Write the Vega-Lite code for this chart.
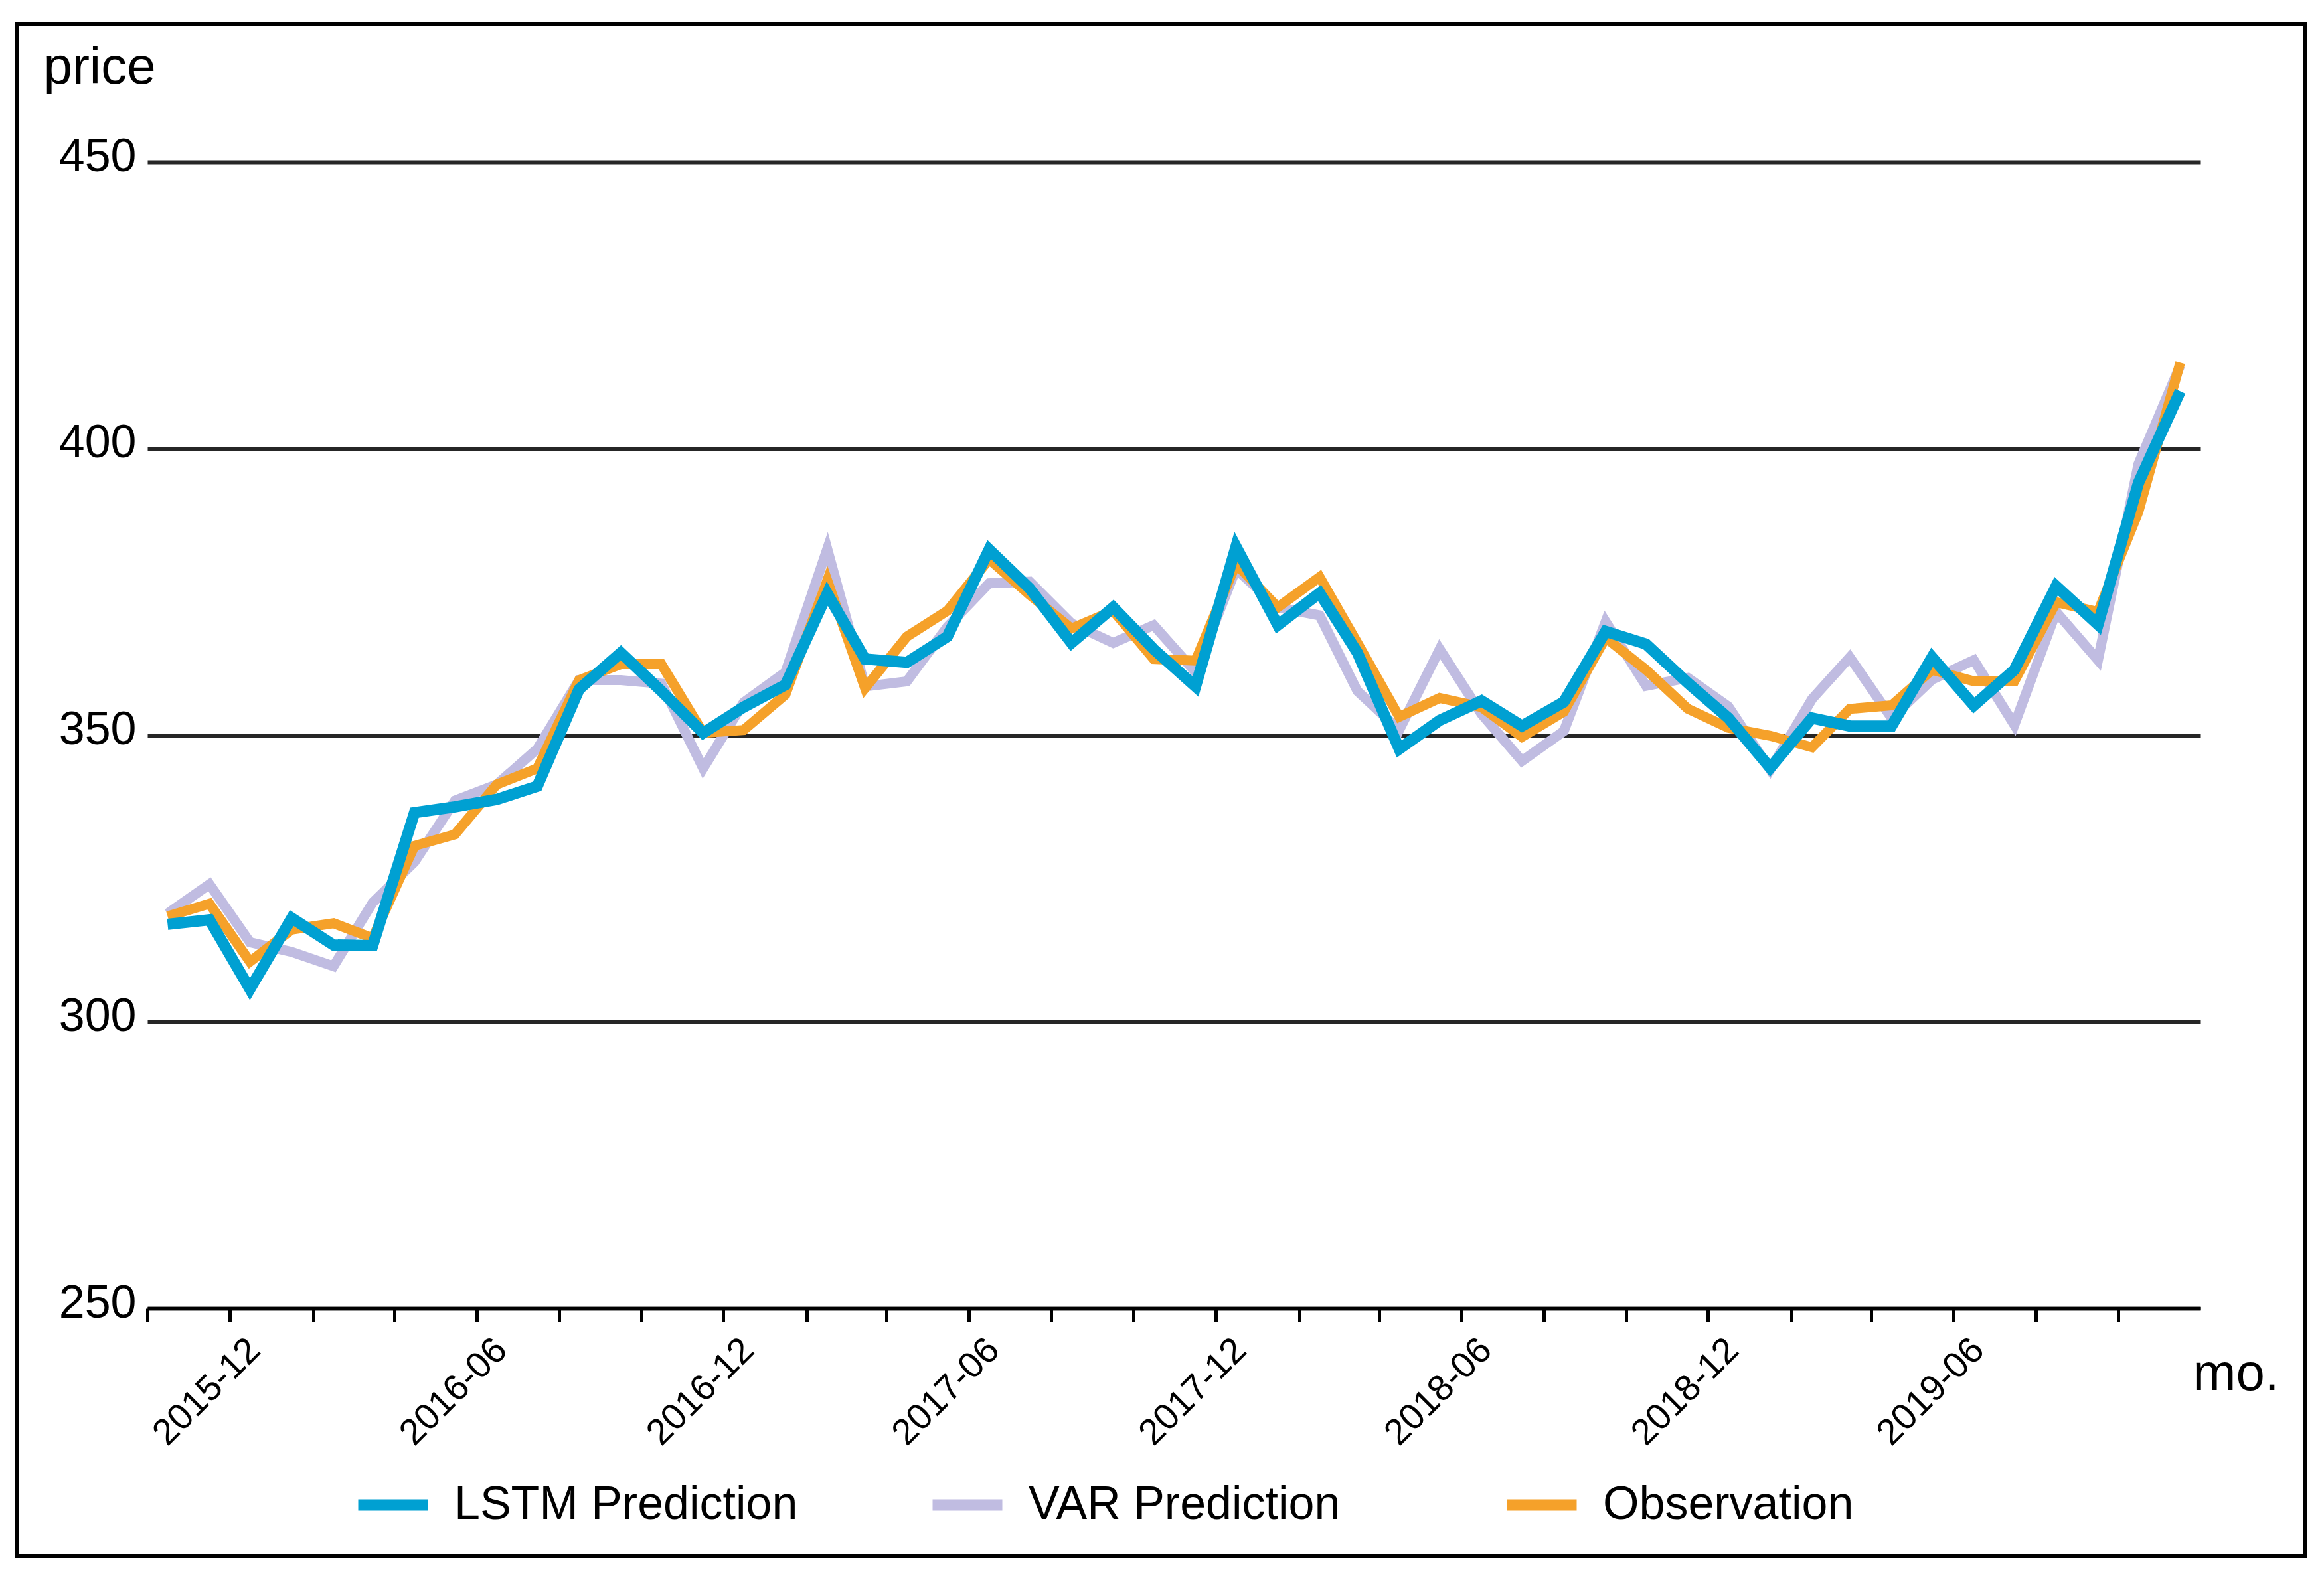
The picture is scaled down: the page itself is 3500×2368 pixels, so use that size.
{
  "$schema": "https://vega.github.io/schema/vega-lite/v6.json",
  "width": 3446,
  "height": 2308,
  "autosize": {"type": "none"},
  "padding": {"left": 25, "top": 36, "right": 29, "bottom": 24},
  "background": "white",
  "config": {
    "font": "Liberation Sans",
    "view": {"stroke": "black", "strokeWidth": 6}
  },
  "data": {
    "values": [
      {"date": "2015-10-16", "lstm": 317.0, "var": 318.9, "obs": 318.4},
      {"date": "2015-11-16", "lstm": 317.8, "var": 324.0, "obs": 320.6},
      {"date": "2015-12-16", "lstm": 305.7, "var": 313.9, "obs": 310.5},
      {"date": "2016-01-16", "lstm": 318.1, "var": 312.2, "obs": 316.1},
      {"date": "2016-02-16", "lstm": 313.4, "var": 309.7, "obs": 317.2},
      {"date": "2016-03-16", "lstm": 313.3, "var": 320.8, "obs": 314.6},
      {"date": "2016-04-16", "lstm": 336.5, "var": 327.9, "obs": 330.7},
      {"date": "2016-05-16", "lstm": 337.5, "var": 338.6, "obs": 332.7},
      {"date": "2016-06-16", "lstm": 338.8, "var": 341.4, "obs": 341.4},
      {"date": "2016-07-16", "lstm": 341.1, "var": 347.6, "obs": 344.2},
      {"date": "2016-08-16", "lstm": 358.0, "var": 359.6, "obs": 359.6},
      {"date": "2016-09-16", "lstm": 364.4, "var": 359.6, "obs": 362.4},
      {"date": "2016-10-16", "lstm": 357.7, "var": 359.0, "obs": 362.4},
      {"date": "2016-11-16", "lstm": 350.4, "var": 344.2, "obs": 350.4},
      {"date": "2016-12-16", "lstm": 354.9, "var": 355.7, "obs": 350.9},
      {"date": "2017-01-16", "lstm": 358.8, "var": 361.0, "obs": 357.1},
      {"date": "2017-02-16", "lstm": 374.7, "var": 382.5, "obs": 377.0},
      {"date": "2017-03-16", "lstm": 363.3, "var": 358.5, "obs": 358.2},
      {"date": "2017-04-16", "lstm": 362.7, "var": 359.4, "obs": 367.2},
      {"date": "2017-05-16", "lstm": 367.2, "var": 368.9, "obs": 371.7},
      {"date": "2017-06-16", "lstm": 382.4, "var": 376.5, "obs": 380.7},
      {"date": "2017-07-16", "lstm": 375.6, "var": 376.8, "obs": 374.5},
      {"date": "2017-08-16", "lstm": 366.1, "var": 369.5, "obs": 368.6},
      {"date": "2017-09-16", "lstm": 372.3, "var": 366.1, "obs": 371.7},
      {"date": "2017-10-16", "lstm": 365.0, "var": 369.2, "obs": 363.3},
      {"date": "2017-11-16", "lstm": 358.5, "var": 361.0, "obs": 363.0},
      {"date": "2017-12-16", "lstm": 382.9, "var": 379.0, "obs": 379.9},
      {"date": "2018-01-16", "lstm": 369.2, "var": 372.3, "obs": 372.3},
      {"date": "2018-02-16", "lstm": 374.8, "var": 370.9, "obs": 377.6},
      {"date": "2018-03-16", "lstm": 364.4, "var": 357.7, "obs": 366.1},
      {"date": "2018-04-16", "lstm": 347.6, "var": 350.9, "obs": 353.2},
      {"date": "2018-05-16", "lstm": 352.6, "var": 365.0, "obs": 356.5},
      {"date": "2018-06-16", "lstm": 356.0, "var": 353.7, "obs": 354.9},
      {"date": "2018-07-16", "lstm": 351.6, "var": 345.5, "obs": 349.7},
      {"date": "2018-08-16", "lstm": 355.8, "var": 350.7, "obs": 354.1},
      {"date": "2018-09-16", "lstm": 368.1, "var": 369.8, "obs": 367.0},
      {"date": "2018-10-16", "lstm": 365.9, "var": 358.6, "obs": 361.4},
      {"date": "2018-11-16", "lstm": 359.1, "var": 360.0, "obs": 354.6},
      {"date": "2018-12-16", "lstm": 353.0, "var": 355.0, "obs": 351.3},
      {"date": "2019-01-16", "lstm": 344.3, "var": 344.0, "obs": 349.9},
      {"date": "2019-02-16", "lstm": 353.0, "var": 356.3, "obs": 347.9},
      {"date": "2019-03-16", "lstm": 351.6, "var": 363.6, "obs": 354.6},
      {"date": "2019-04-16", "lstm": 351.6, "var": 353.0, "obs": 355.2},
      {"date": "2019-05-16", "lstm": 363.6, "var": 359.7, "obs": 361.4},
      {"date": "2019-06-16", "lstm": 355.2, "var": 363.1, "obs": 359.4},
      {"date": "2019-07-16", "lstm": 361.4, "var": 351.8, "obs": 359.4},
      {"date": "2019-08-16", "lstm": 376.0, "var": 371.5, "obs": 373.2},
      {"date": "2019-09-16", "lstm": 369.3, "var": 363.1, "obs": 371.5},
      {"date": "2019-10-16", "lstm": 394.0, "var": 397.3, "obs": 389.0},
      {"date": "2019-11-16", "lstm": 410.0, "var": 414.5, "obs": 415.0}
    ]
  },
  "encoding": {
    "x": {
      "field": "date",
      "type": "temporal",
      "scale": {
        "domain": [{"year": 2015, "month": 10, "date": 1}, {"year": 2019, "month": 12, "date": 1}],
        "range": [197, 3289]
      },
      "axis": {
        "orient": "bottom",
        "offset": -373,
        "values": [
          {"year": 2015, "month": 10, "date": 1}, {"year": 2015, "month": 12, "date": 1},
          {"year": 2016, "month": 2, "date": 1}, {"year": 2016, "month": 4, "date": 1},
          {"year": 2016, "month": 6, "date": 1}, {"year": 2016, "month": 8, "date": 1},
          {"year": 2016, "month": 10, "date": 1}, {"year": 2016, "month": 12, "date": 1},
          {"year": 2017, "month": 2, "date": 1}, {"year": 2017, "month": 4, "date": 1},
          {"year": 2017, "month": 6, "date": 1}, {"year": 2017, "month": 8, "date": 1},
          {"year": 2017, "month": 10, "date": 1}, {"year": 2017, "month": 12, "date": 1},
          {"year": 2018, "month": 2, "date": 1}, {"year": 2018, "month": 4, "date": 1},
          {"year": 2018, "month": 6, "date": 1}, {"year": 2018, "month": 8, "date": 1},
          {"year": 2018, "month": 10, "date": 1}, {"year": 2018, "month": 12, "date": 1},
          {"year": 2019, "month": 2, "date": 1}, {"year": 2019, "month": 4, "date": 1},
          {"year": 2019, "month": 6, "date": 1}, {"year": 2019, "month": 8, "date": 1},
          {"year": 2019, "month": 10, "date": 1}
        ],
        "labelExpr": "(month(datum.value) == 5 || month(datum.value) == 11) ? timeFormat(datum.value, '%Y-%m') : ''",
        "labelAngle": -45,
        "labelAlign": "right",
        "labelBaseline": "top",
        "labelFontSize": 55,
        "labelColor": "black",
        "labelPadding": 15,
        "labelOffset": 18,
        "labelLimit": 1000,
        "labelFlush": false,
        "labelOverlap": false,
        "labelBound": false,
        "tickSize": 20,
        "tickWidth": 5,
        "tickColor": "black",
        "domainColor": "black",
        "domainWidth": 5,
        "grid": false,
        "title": "mo.",
        "titleFontSize": 78,
        "titleFontWeight": "normal",
        "titleColor": "black",
        "titleAlign": "left",
        "titleBaseline": "alphabetic",
        "titleX": 3277,
        "titleY": 122
      }
    }
  },
  "layer": [
    {
      "mark": {"type": "line", "strokeWidth": 15},
      "encoding": {
        "y": {
          "field": "var",
          "type": "quantitative",
          "title": "price",
          "scale": {"domain": [250, 450], "range": [1935, 208], "nice": false, "zero": false},
          "axis": {
            "orient": "left",
            "offset": -197,
            "values": [250, 300, 350, 400, 450],
            "domain": false,
            "ticks": false,
            "tickSize": 0,
            "grid": true,
            "gridColor": "#262626",
            "gridWidth": 6,
            "labelFontSize": 70,
            "labelColor": "black",
            "labelPadding": 17,
            "labelOffset": -8,
            "title": "price",
            "titleFontSize": 78,
            "titleFontWeight": "normal",
            "titleColor": "black",
            "titleAngle": 0,
            "titleAlign": "left",
            "titleBaseline": "alphabetic",
            "titleX": -157,
            "titleY": 89
          }
        },
        "color": {
          "datum": "VAR Prediction",
          "type": "nominal",
          "scale": {
            "domain": ["LSTM Prediction", "VAR Prediction", "Observation"],
            "range": ["#00A0D2", "#C0BCE1", "#F5A12A"]
          },
          "legend": {
            "orient": "none",
            "legendX": 506,
            "legendY": 2170,
            "direction": "horizontal",
            "columns": 3,
            "gridAlign": "all",
            "columnPadding": 168,
            "title": null,
            "symbolType": "stroke",
            "symbolSize": 11025,
            "symbolStrokeWidth": 17,
            "labelFontSize": 70,
            "labelColor": "black",
            "labelOffset": 31,
            "labelLimit": 1000,
            "padding": 0,
            "offset": 0
          }
        }
      }
    },
    {
      "mark": {"type": "line", "strokeWidth": 15},
      "encoding": {
        "y": {"field": "obs", "type": "quantitative", "title": "price"},
        "color": {"datum": "Observation", "type": "nominal"}
      }
    },
    {
      "mark": {"type": "line", "strokeWidth": 17},
      "encoding": {
        "y": {"field": "lstm", "type": "quantitative", "title": "price"},
        "color": {"datum": "LSTM Prediction", "type": "nominal"}
      }
    }
  ]
}
